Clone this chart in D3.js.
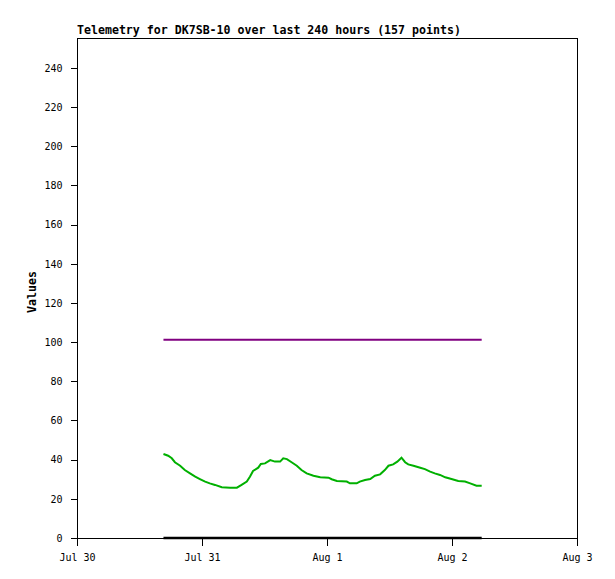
<!DOCTYPE html>
<html>
<head>
<meta charset="utf-8">
<script src="https://cdn.jsdelivr.net/npm/d3@7"></script>
<style>
  body { margin: 0; background: #fff; }
  svg text { font-family: "DejaVu Sans Mono", "Liberation Mono", monospace; }
</style>
</head>
<body>
<div id="chart"></div>
<script>
// hours after Jul 30 00:00 for each reading of the green series
var hours = [16.6, 17.5, 18.2, 18.8, 19.8, 20.7, 21.7, 22.7, 23.6, 24.6,
             25.5, 26.5, 27.8, 29.4, 30.7, 31.6, 32.6, 33.2, 33.8, 34.8,
             35.3, 36.1, 37.1, 38.0, 39.0, 39.6, 40.3, 41.2, 42.2, 43.1,
             44.1, 45.4, 46.7, 48.3, 48.9, 49.9, 51.8, 52.4, 53.7, 54.3,
             55.3, 56.3, 57.2, 58.2, 59.1, 59.8, 60.7, 61.5, 62.3, 63.0,
             63.6, 64.6, 65.9, 66.8, 67.8, 68.7, 69.7, 70.7, 71.9, 73.2,
             74.5, 75.5, 76.7, 77.7];
var greenValues = [42.9, 42.0, 40.7, 38.7, 36.9, 34.7, 33.0, 31.3, 30.1, 28.8,
                   27.9, 27.1, 25.9, 25.7, 25.7, 27.1, 28.8, 31.3, 34.2, 35.9,
                   37.8, 38.1, 39.8, 39.0, 39.0, 40.7, 40.3, 38.7, 36.9, 34.7,
                   33.0, 31.8, 31.0, 30.8, 30.0, 29.1, 28.8, 27.9, 27.9, 28.8,
                   29.6, 30.1, 31.8, 32.5, 34.7, 36.9, 37.6, 39.0, 41.0, 38.7,
                   37.6, 36.9, 35.9, 35.2, 33.9, 33.0, 32.2, 31.0, 30.1, 29.1,
                   28.8, 27.9, 26.7, 26.7];
// constant series: purple ~101, black at 0 (first and last reading)
var flatHours = [16.6, 77.7];
var purpleValues = [101.2, 101.2];
var blackValues = [0, 0];

var yTicks = [0, 20, 40, 60, 80, 100, 120, 140, 160, 180, 200, 220, 240];
var xTickLabels = ["Jul 30", "Jul 31", "Aug 1", "Aug 2", "Aug 3"];
var xTickHours = [0, 24, 48, 72, 96];

function init(){
    var w = 615, h = 579;
    var left = 77, right = 577, top = 38, bottom = 538;

    var start = new Date(2024, 6, 30);
    function toDate(hr){ return new Date(start.getTime() + hr * 3600000); }

    var xScale = d3.scaleTime()
                    .domain([toDate(0), toDate(96)])
                    .range([left, right]);
    var yScale = d3.scaleLinear()
                    .domain([0, 255.3])
                    .range([bottom, top]);

    var svg = d3.select('#chart')
                .append('svg')
                .attr('width', w)
                .attr('height', h);

    // title
    svg.append('text')
        .attr('x', left)
        .attr('y', 34)
        .attr('font-size', '11.6px')
        .attr('font-weight', 'bold')
        .text('Telemetry for DK7SB-10 over last 240 hours (157 points)');

    // y label
    svg.append('text')
        .attr('transform', 'translate(36,292) rotate(-90)')
        .attr('text-anchor', 'middle')
        .attr('font-size', '11.6px')
        .attr('font-weight', 'bold')
        .text('Values');

    // frame
    svg.append('rect')
        .attr('x', left + 0.5)
        .attr('y', top + 0.5)
        .attr('width', right - left)
        .attr('height', bottom - top)
        .attr('fill', 'none')
        .attr('stroke', '#000')
        .attr('stroke-width', 1)
        .attr('shape-rendering', 'crispEdges');

    // y axis
    var yAxis = d3.axisLeft(yScale)
                    .tickValues(yTicks)
                    .tickSize(7)
                    .tickPadding(8);
    var gy = svg.append('g')
        .attr('transform', 'translate(' + (left + 0.5) + ',0)')
        .call(yAxis);
    gy.select('.domain').remove();
    gy.selectAll('text')
        .attr('font-size', '10px')
        .attr('font-family', '"DejaVu Sans Mono", monospace')
        .attr('fill', '#000');
    gy.selectAll('line').attr('shape-rendering', 'crispEdges');

    // x axis
    var xAxis = d3.axisBottom(xScale)
                    .tickValues(xTickHours.map(toDate))
                    .tickFormat(function(d, i){ return xTickLabels[i]; })
                    .tickSize(7)
                    .tickPadding(8);
    var gx = svg.append('g')
        .attr('transform', 'translate(0,' + (bottom + 0.5) + ')')
        .call(xAxis);
    gx.select('.domain').remove();
    gx.selectAll('text')
        .attr('font-size', '10px')
        .attr('font-family', '"DejaVu Sans Mono", monospace')
        .attr('fill', '#000');
    gx.selectAll('line').attr('shape-rendering', 'crispEdges');

    var line = d3.line()
                .x(function(d){ return xScale(toDate(d[0])); })
                .y(function(d){ return yScale(d[1]); });

    svg.append('path')
        .datum(d3.zip(flatHours, purpleValues))
        .attr('d', line)
        .attr('fill', 'none')
        .attr('stroke', '#800080')
        .attr('stroke-width', 2);

    svg.append('path')
        .datum(d3.zip(flatHours, blackValues))
        .attr('d', line)
        .attr('fill', 'none')
        .attr('stroke', '#000')
        .attr('stroke-width', 2.5);

    svg.append('path')
        .datum(d3.zip(hours, greenValues))
        .attr('d', line)
        .attr('fill', 'none')
        .attr('stroke', '#00b000')
        .attr('stroke-width', 2);
}

window.onload = init;
</script>
</body>
</html>
